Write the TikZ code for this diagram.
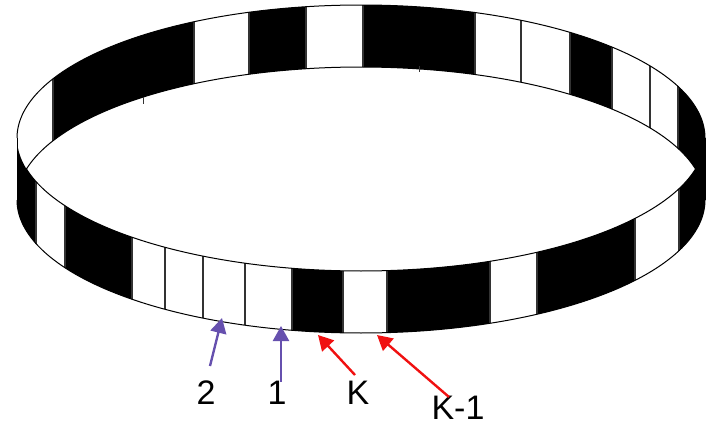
\documentclass[tikz,border=0pt]{standalone}
\usepackage{fontspec}
\setmainfont{Liberation Sans}
\usetikzlibrary{arrows.meta}
\definecolor{arrowpurple}{HTML}{6650AE}
\definecolor{arrowred}{HTML}{F01010}
\newcommand{\cxx}{361}\newcommand{\aaa}{344}\newcommand{\bbb}{133}
\newcommand{\ytop}{138}\newcommand{\ylow}{200}
% band cell: #1 sign (-1 back, 1 front), #2 x1, #3 x2
\newcommand{\bandcell}[3]{%
  \pgfmathsetmacro{\tA}{acos((#2-\cxx)/\aaa)}%
  \pgfmathsetmacro{\tB}{acos((#3-\cxx)/\aaa)}%
  \fill[black] plot[smooth,samples=30,domain=\tA:\tB,variable=\t] ({\cxx+\aaa*cos(\t)},{\ytop+#1*\bbb*sin(\t)})
    -- plot[smooth,samples=30,domain=\tB:\tA,variable=\t] ({\cxx+\aaa*cos(\t)},{\ylow+#1*\bbb*sin(\t)}) -- cycle;}
% divider: #1 sign, #2 x
\newcommand{\bandline}[2]{%
  \pgfmathsetmacro{\tA}{acos((#2-\cxx)/\aaa)}%
  \draw[divider] ({#2},{\ytop+#1*\bbb*sin(\tA)}) -- ({#2},{\ylow+#1*\bbb*sin(\tA)});}
\tikzset{
  rim/.style={draw=black,line width=1pt},
  divider/.style={draw=black!80,line width=1.1pt},
  numlabel/.style={inner sep=0pt,font=\fontsize{34}{34}\selectfont,text=black},
  purplearrow/.style={draw=arrowpurple,line width=2.4pt,-{Triangle[length=15pt,width=16pt]}},
  redarrow/.style={draw=arrowred,line width=2.4pt,-{Triangle[length=15pt,width=16pt]}}
}
\begin{document}
\begin{tikzpicture}[x=1pt,y=-1pt]
\useasboundingbox (0,0) rectangle (714,423);
% back half of the band
\foreach \p/\q in {53/194,249/306,363/475,570/612,678/705}{\bandcell{-1}{\p}{\q}}
\foreach \p in {53,194,249,306,363,475,570,521,612,650,678}{\bandline{-1}{\p}}
\draw[rim] plot[smooth,samples=90,domain=0:180,variable=\t] ({\cxx+\aaa*cos(\t)},{\ytop-\bbb*sin(\t)});
\draw[rim] plot[smooth,samples=80,domain=13:167,variable=\t] ({\cxx+\aaa*cos(\t)},{\ylow-\bbb*sin(\t)});
\draw[divider,line width=0.8pt] (143,97) -- (143,104);
\draw[divider,line width=0.8pt] (419,66) -- (419,72);
% front half of the band
\foreach \p/\q in {17/36,65/132,292/343,387/490,537/635,679/705}{\bandcell{1}{\p}{\q}}
\foreach \p in {36,65,132,165,203,245,292,343,387,490,537,635,679}{\bandline{1}{\p}}
\draw[rim] plot[smooth,samples=80,domain=13:167,variable=\t] ({\cxx+\aaa*cos(\t)},{\ytop+\bbb*sin(\t)});
\draw[rim] plot[smooth,samples=90,domain=0:180,variable=\t] ({\cxx+\aaa*cos(\t)},{\ylow+\bbb*sin(\t)});
\draw[rim] (17,138) -- (17,200);
\draw[rim] (705,138) -- (705,200);
% labels
\node[numlabel] (lab2) at (206,393) {2};
\node[numlabel] (lab1) at (277,393) {1};
\node[numlabel] (labK) at (358,393) {K};
\node[numlabel] (labK1) at (458,408) {K-1};
% arrow ends
\coordinate (tail2) at (210,366);
\coordinate (tip2) at (222,318);
\coordinate (tail1) at (281,382);
\coordinate (tip1) at (281,326);
\coordinate (tailK) at (355,375);
\coordinate (tipK) at (318,335);
\coordinate (tailK1) at (449,397);
\coordinate (tipK1) at (377,335);
\draw[purplearrow] (tail2) -- (tip2);
\draw[purplearrow] (tail1) -- (tip1);
\draw[redarrow] (tailK) -- (tipK);
\draw[redarrow] (tailK1) -- (tipK1);
\end{tikzpicture}
\end{document}
